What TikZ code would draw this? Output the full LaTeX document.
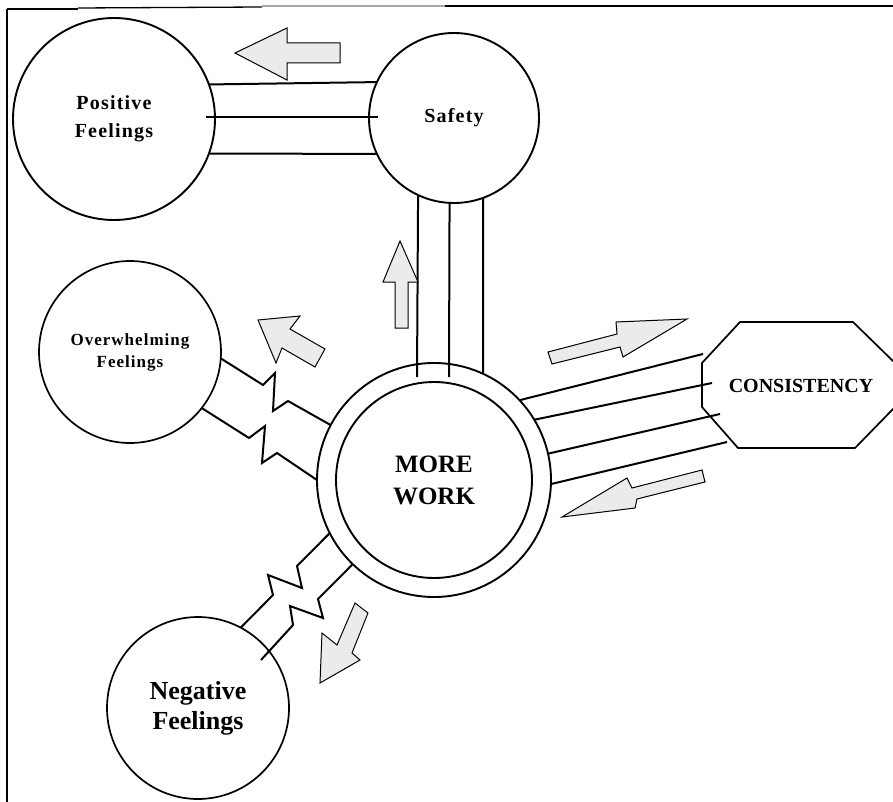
\documentclass[tikz,border=0pt]{standalone}
\usepackage{fontspec}
\setmainfont{Liberation Serif}
\newfontfamily\spaced[LetterSpace=6]{Liberation Serif}
\usetikzlibrary{calc}
\begin{document}
\begin{tikzpicture}[x=1pt,y=-1pt,
  circ/.style={circle,draw,line width=1.9pt,inner sep=0pt,outer sep=0pt,align=center},
  link/.style={line width=2pt,line cap=butt},
  barrow/.style={draw,line width=1pt,fill=gray!16,line join=miter},
  frame/.style={line width=1.3pt}
]
\useasboundingbox (0,0) rectangle (893,802);
% frame
\draw[frame] (7,9) -- (78,9);
\draw[frame] (78,8) -- (262,7);
\draw[line width=1.5pt,gray!70] (262,6) -- (445,6);
\draw[line width=2.2pt] (445,6) -- (893,6);
\draw[frame] (7,9) -- (7,802);

% nodes
\node[circ,minimum size=202pt,font=\spaced\bfseries\fontsize{20}{28}\selectfont] (pf) at (114,119) {Positive\\Feelings};
\node[circ,minimum size=170pt,font=\spaced\bfseries\fontsize{20}{28}\selectfont] (safety) at (454,118) {Safety};
\node[circ,minimum size=182pt,line width=1.7pt,font=\spaced\bfseries\fontsize{17}{22}\selectfont] (ow) at (130,352) {Overwhelming\\Feelings};
\node[circ,minimum size=234pt] (mw) at (434,480) {};
\node[circ,minimum size=196pt,font=\bfseries\fontsize{25}{32}\selectfont] (mwin) at (434,480) {MORE\\WORK};
\node[circ,minimum size=182pt,line width=1.7pt,font=\bfseries\fontsize{26}{30}\selectfont] (neg) at (198,708) {Negative\\Feelings};
\node[font=\bfseries\fontsize{20}{24}\selectfont,inner sep=0pt] (cons) at (801,386) {CONSISTENCY};
% octagon around CONSISTENCY
\draw[line width=1.7pt,line join=miter]
  (740,322) -- (853,322) -- (895,363) -- (895,407) -- (855,448)
  -- (738,448) -- (702,407) -- (702,363) -- cycle;

% Positive Feelings -- Safety
\draw[link] (pf.20.9) -- (safety.155.7);
\draw[link] ($(pf.center)+(92,-2)$) -- ($(safety.center)+(-76,-1)$);
\draw[link] (pf.-20.9) -- (safety.205.8);

% Safety -- More Work
\draw[link] (safety.-115.8) -- ($(mw.center)+(-17,-103)$);
\draw[link] (safety.-93.4) -- ($(mw.center)+(15,-103)$);
\draw[link] (safety.-70.05) -- ($(mw.center)+(49,-107)$);

% More Work -- Consistency
\coordinate (c1) at (703,354);
\coordinate (c2) at (712,383);
\coordinate (c3) at (720,414);
\coordinate (c4) at (727,442);
\draw[link] (mw.43) -- (c1);
\draw[link] (mw.31) -- (c2);
\draw[link] (mw.13.8) -- (c3);
\draw[link] (mw.-2) -- (c4);

% Overwhelming -- More Work (zigzags)
\draw[link,line join=miter] (ow.-4.5) -- (263,385) -- (275,373) -- (273,411) -- (288,401) -- (mw.152.8);
\draw[link,line join=miter] (ow.-38) -- (249,438) -- (265,426) -- (262,463) -- (277,453) -- (mw.180.5);

% Negative -- More Work (zigzags)
\draw[link,line join=miter] (neg.62) -- (273,595) -- (268,575) -- (302,588) -- (297,566) -- (mw.207.5);
\draw[link,line join=miter] ($(neg.center)+(63,-48)$) -- (293,625) -- (290,606) -- (323,618) -- (318,599) -- (mw.226);

% block arrows
\draw[barrow] (235,53) -- (287,28) -- (287,43) -- (340,43) -- (340,63) -- (287,63) -- (287,80) -- cycle;
\draw[barrow] (400,241) -- (418,282) -- (408,282) -- (408,328) -- (395,328) -- (395,282) -- (383,282) -- cycle;
\draw[barrow] (258,320) -- (300,316) -- (290,329) -- (325,349) -- (315,367) -- (282,348) -- (276,363) -- cycle;
\draw[barrow] (320,683) -- (322,633) -- (337,645) -- (355,603) -- (368,613) -- (352,653) -- (360,660) -- cycle;
\draw[barrow] (548,352) -- (617,334) -- (616,322) -- (687,319) -- (623,357) -- (620,347) -- (552,364) -- cycle;
\draw[barrow] (562,517) -- (627,478) -- (632,488) -- (702,470) -- (705,482) -- (637,499) -- (635,508) -- cycle;
\end{tikzpicture}
\end{document}
